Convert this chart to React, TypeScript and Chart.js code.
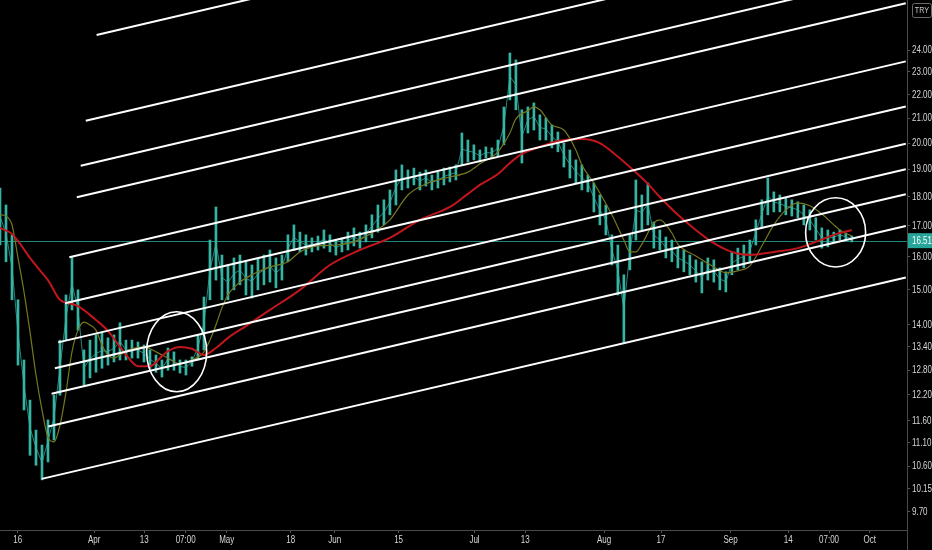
import React, { useEffect, useRef } from "react";
import { Chart, registerables } from "chart.js";
Chart.register(...registerables);

// ---- data (prices in TRY, x = bar index) ----
const candleHigh = [
  18.31, 17.71, 16.7, 14.7, 13.06, 12.07, 11.38, 11.05, 11.61, 12.19,
  13.58, 14.84, 15.99, 14.99, 13.32, 13.58, 13.72, 13.77, 13.64, 13.72,
  14.05, 13.58, 13.58, 13.53, 13.45, 13.32, 13.19, 13.06, 13.37, 13.27,
  13.06, 13.06, 13.14, 13.72, 14.78, 16.53, 17.64, 16.05, 15.74, 15.96,
  16.05, 15.84, 15.74, 15.96, 16.05, 16.21, 15.96, 16.05, 16.7, 17.03,
  16.79, 16.7, 16.6, 16.66, 16.86, 16.7, 16.53, 16.6, 16.79, 16.93,
  16.79, 17.03, 17.37, 17.71, 17.89, 18.24, 18.97, 19.16, 18.97, 19.04,
  18.89, 18.97, 18.78, 18.89, 19.04, 19.08, 19.16, 20.4, 20.12, 19.93,
  19.73, 19.85, 19.81, 20.12, 21.47, 23.87, 23.55, 21.35, 21.47, 21.64,
  21.14, 21.01, 20.72, 20.44, 20.0, 19.73, 19.35, 19.16, 18.78, 18.49,
  18.06, 17.71, 16.7, 16.37, 15.44, 16.7, 18.6, 18.06, 18.49, 17.13,
  16.86, 16.63, 16.53, 16.27, 16.21, 16.05, 15.9, 15.84, 15.96, 15.9,
  15.65, 15.53, 16.15, 16.27, 16.37, 16.53, 17.2, 17.89, 18.67, 18.17,
  18.06, 17.96, 17.89, 17.82, 17.71, 17.54, 17.27, 16.93, 16.86, 16.79,
  16.86, 16.76, 16.66,
];
const candleLow = [
  16.37, 15.84, 14.7, 12.93, 11.84, 10.83, 10.62, 10.32, 10.69, 11.16,
  12.19, 13.58, 14.41, 13.85, 12.43, 12.61, 12.75, 12.85, 12.93, 13.01,
  13.06, 13.06, 13.11, 13.11, 13.01, 12.85, 12.75, 12.63, 12.8, 12.8,
  12.73, 12.68, 12.9, 13.06, 13.32, 14.7, 15.28, 14.7, 14.7, 14.99,
  15.14, 14.84, 14.75, 14.99, 15.14, 15.22, 15.05, 15.28, 15.84, 16.21,
  16.15, 16.05, 16.15, 16.21, 16.27, 16.15, 16.05, 16.15, 16.21, 16.34,
  16.27, 16.47, 16.6, 16.79, 17.03, 17.37, 17.71, 18.24, 18.31, 18.42,
  18.24, 18.38, 18.24, 18.31, 18.42, 18.53, 18.6, 19.16, 19.27, 19.35,
  19.27, 19.42, 19.42, 19.5, 19.93, 21.77, 21.35, 19.23, 20.4, 20.52,
  20.12, 20.12, 19.81, 19.66, 19.08, 18.67, 18.49, 18.24, 18.17, 17.47,
  17.03, 16.7, 15.74, 14.84, 13.5, 15.59, 16.53, 16.86, 17.03, 16.27,
  16.21, 15.96, 15.84, 15.65, 15.53, 15.44, 15.22, 14.9, 15.28, 15.22,
  14.99, 14.93, 15.44, 15.59, 15.65, 15.84, 16.37, 16.93, 17.37, 17.47,
  17.47, 17.37, 17.33, 17.27, 17.03, 16.86, 16.53, 16.27, 16.31, 16.47,
  16.53, 16.53, 16.47,
];

const redIdx = [0, 2, 3, 5, 7, 8, 10, 12, 13, 16, 18, 20, 22, 23, 25, 27, 28, 30, 32, 34, 36, 38, 41, 45, 50, 55, 60, 65, 70, 75, 78, 80, 83, 85, 87, 90, 93, 97, 100, 102, 105, 108, 110, 113, 116, 119, 122, 125, 129, 133, 136, 139, 142];
const redVal = [16.93, 16.73, 16.5, 15.96, 15.5, 15.28, 14.7, 14.58, 14.52, 14.13, 13.83, 13.4, 13.01, 12.9, 12.9, 13.16, 13.29, 13.4, 13.35, 13.19, 13.37, 13.64, 13.96, 14.41, 14.99, 15.74, 16.21, 16.6, 17.2, 17.64, 18.1, 18.42, 18.82, 19.23, 19.58, 19.85, 20.08, 20.16, 20.0, 19.66, 19.08, 18.46, 17.99, 17.37, 16.86, 16.43, 16.15, 16.05, 16.15, 16.27, 16.47, 16.7, 16.86];

const oliveIdx = [0, 1, 2, 3, 4, 5, 6, 7, 8, 9, 10, 11, 12, 13, 14, 15, 16, 17, 18, 19, 20, 22, 24, 26, 28, 30, 32, 34, 35, 36, 37, 38, 40, 42, 45, 48, 50, 53, 56, 59, 62, 65, 68, 71, 75, 78, 80, 83, 85, 86, 88, 89, 90, 92, 94, 96, 97, 99, 100, 102, 104, 105, 106, 107, 109, 110, 112, 113, 116, 119, 121, 123, 125, 127, 129, 131, 133, 135, 137, 139, 140, 142];
const oliveVal = [17.37, 17.33, 17.03, 15.96, 14.93, 13.8, 12.68, 11.84, 11.22, 11.12, 11.49, 12.26, 13.27, 13.85, 14.07, 13.99, 13.85, 13.45, 13.19, 13.11, 13.19, 13.35, 13.4, 13.27, 13.11, 12.96, 13.06, 13.27, 13.58, 13.99, 14.47, 14.84, 15.22, 15.44, 15.68, 15.84, 16.15, 16.34, 16.37, 16.47, 16.76, 17.2, 18.06, 18.46, 18.71, 18.89, 19.2, 19.66, 20.4, 20.97, 21.31, 21.47, 21.35, 20.72, 20.52, 19.73, 19.16, 18.49, 18.13, 17.37, 16.53, 16.15, 16.15, 16.4, 17.1, 17.2, 16.76, 16.4, 16.02, 15.68, 15.5, 15.56, 15.71, 16.34, 17.03, 17.54, 17.78, 17.68, 17.4, 17.03, 16.86, 16.66];

// parallel channel lines: start (index, price) -> end (index, price)
const channelStartIdx = [16.1, 14.3, 13.45, 12.8, 11.55, 10.85, 9.7, 9.15, 8.6, 8.05, 6.95];
const channelStartVal = [24.73, 20.9, 19.13, 17.98, 15.98, 14.6, 13.52, 12.85, 12.22, 11.46, 10.34];
const channelEndIdx = 151;
const channelEndVal = [35.86, 30.46, 27.95, 26.32, 23.48, 21.49, 19.97, 19.0, 18.09, 16.99, 15.36];

// highlighted zones (index range, price range)
const zoneCenterIdx = [29.45, 139.3];
const zoneHalfIdx = [5, 5];
const zoneTop = [14.36, 17.96];
const zoneBottom = [12.27, 15.68];

const yTicks = [9.7, 10.15, 10.6, 11.1, 11.6, 12.2, 12.8, 13.4, 14, 15, 16, 17, 18, 19, 20, 21, 22, 23, 24];
const xTickPos = [2.95, 15.7, 24.05, 30.95, 37.8, 48.45, 55.8, 66.45, 79.1, 87.55, 100.7, 110.2, 121.8, 131.4, 138.2, 145];
const xTickLabels = ["16", "Apr", "13", "07:00", "May", "18", "Jun", "15", "Jul", "13", "Aug", "17", "Sep", "14", "07:00", "Oct"];
const lastPrice = 16.51;
const currency = "TRY";

const Y_MIN = 9.352;
const Y_MAX = 26.49;
const X_MAX = 151.2;

const FONT = "'Liberation Sans', 'DejaVu Sans', sans-serif";
const TEAL = "#35b3a3";
const LABEL = "#d6d6d6";

function narrowText(ctx: CanvasRenderingContext2D, text: string, x: number, y: number, align: "left" | "center") {
  const sx = 0.8;
  ctx.save();
  ctx.translate(x, y);
  ctx.scale(sx, 1);
  ctx.textAlign = align;
  ctx.fillText(text, 0, 0);
  ctx.restore();
}

const overlay = {
  id: "overlay",
  beforeDatasetsDraw(chart: any) {
    const { ctx, chartArea, scales } = chart;
    const py = Math.round(scales.y.getPixelForValue(lastPrice)) + 0.5;
    ctx.save();
    ctx.strokeStyle = "rgba(38,166,154,0.8)";
    ctx.lineWidth = 1;
    ctx.beginPath();
    ctx.moveTo(chartArea.left, py);
    ctx.lineTo(chartArea.right, py);
    ctx.stroke();
    ctx.restore();
  },
  afterDatasetsDraw(chart: any) {
    const { ctx, chartArea, scales } = chart;
    const { x, y } = scales;
    ctx.save();
    ctx.beginPath();
    ctx.rect(chartArea.left, chartArea.top, chartArea.right - chartArea.left, chartArea.bottom - chartArea.top);
    ctx.clip();
    ctx.strokeStyle = "#ffffff";
    ctx.lineWidth = 1.6;
    zoneCenterIdx.forEach((c, i) => {
      const cx = x.getPixelForValue(c);
      const rx = Math.abs(x.getPixelForValue(c + zoneHalfIdx[i]) - cx);
      const t = y.getPixelForValue(zoneTop[i]);
      const b = y.getPixelForValue(zoneBottom[i]);
      ctx.beginPath();
      ctx.ellipse(cx, (t + b) / 2, rx, Math.abs(b - t) / 2, 0, 0, Math.PI * 2);
      ctx.stroke();
    });
    ctx.restore();
  },
  afterDraw(chart: any) {
    const { ctx, chartArea, scales, width, height } = chart;
    const { x, y } = scales;
    ctx.save();
    ctx.strokeStyle = "#4a4a4a";
    ctx.lineWidth = 1;
    ctx.beginPath();
    ctx.moveTo(chartArea.right + 0.5, chartArea.bottom);
    ctx.lineTo(chartArea.right + 0.5, height);
    ctx.stroke();
    // tick labels (condensed, like the original terminal font)
    ctx.fillStyle = LABEL;
    ctx.font = `10px ${FONT}`;
    ctx.textBaseline = "middle";
    yTicks.forEach((v) => {
      narrowText(ctx, v.toFixed(2), chartArea.right + 5, y.getPixelForValue(v) + 0.5, "left");
    });
    xTickPos.forEach((p, i) => {
      narrowText(ctx, xTickLabels[i], x.getPixelForValue(p), chartArea.bottom + 10.5, "center");
    });
    // last price label
    const py = y.getPixelForValue(lastPrice);
    ctx.fillStyle = "#26a69a";
    ctx.fillRect(chartArea.right + 1, py - 7.5, width - chartArea.right - 1, 15);
    ctx.fillStyle = "#ffffff";
    narrowText(ctx, lastPrice.toFixed(2), chartArea.right + 5, py + 0.5, "left");
    // currency box
    const bx = chartArea.right + 5;
    ctx.strokeStyle = "#6a6a6a";
    ctx.beginPath();
    if ((ctx as any).roundRect) (ctx as any).roundRect(bx + 0.5, 3.5, 19, 14, 2);
    else ctx.rect(bx + 0.5, 3.5, 19, 14);
    ctx.stroke();
    ctx.fillStyle = "#c8c8c8";
    ctx.font = `9px ${FONT}`;
    narrowText(ctx, currency, bx + 10, 11, "center");
    ctx.restore();
  },
};

export default function App() {
  const ref = useRef<HTMLCanvasElement>(null);
  useEffect(() => {
    document.body.style.margin = "0";
    document.body.style.background = "#000";
    const candles = candleLow.map((lo, i) => ({ x: i, y: [lo, candleHigh[i]] }));
    const mids = candleLow.map((lo, i) => ({ x: i, y: Math.sqrt(lo * candleHigh[i]) }));
    const red = redIdx.map((v, i) => ({ x: v, y: redVal[i] }));
    const olive = oliveIdx.map((v, i) => ({ x: v, y: oliveVal[i] }));
    const channels = channelStartIdx.map((s, i) => ({
      type: "line",
      data: [
        { x: s, y: channelStartVal[i] },
        { x: channelEndIdx, y: channelEndVal[i] },
      ],
      borderColor: "#ffffff",
      borderWidth: 2,
      pointRadius: 0,
      order: 1,
    }));
    const chart = new Chart(ref.current as HTMLCanvasElement, {
      type: "bar",
      data: {
        datasets: [
          {
            type: "bar",
            data: candles as any,
            backgroundColor: TEAL,
            borderWidth: 0,
            barThickness: 2,
            order: 6,
          } as any,
          {
            type: "line",
            data: mids,
            borderColor: "rgba(53,179,163,0.75)",
            borderWidth: 1,
            pointRadius: 0,
            order: 5,
          } as any,
          {
            type: "line",
            data: olive,
            borderColor: "#76781f",
            borderWidth: 1.2,
            pointRadius: 0,
            cubicInterpolationMode: "monotone",
            order: 4,
          } as any,
          {
            type: "line",
            data: red,
            borderColor: "#c0161c",
            borderWidth: 2,
            pointRadius: 0,
            cubicInterpolationMode: "monotone",
            order: 3,
          } as any,
          ...(channels as any),
        ],
      },
      options: {
        responsive: false,
        devicePixelRatio: 1,
        animation: false,
        layout: { padding: 0 },
        plugins: { legend: { display: false }, tooltip: { enabled: false } },
        scales: {
          x: {
            type: "linear",
            min: 0,
            max: X_MAX,
            offset: false,
            grid: { display: true, drawOnChartArea: false, drawTicks: true, tickLength: 3, color: "#555", offset: false },
            border: { display: true, color: "#4a4a4a" },
            ticks: {
              autoSkip: false,
              maxRotation: 0,
              padding: 1,
              color: "rgba(0,0,0,0)",
              font: { family: FONT, size: 10 },
              callback: (_v: any, i: number) => xTickLabels[i],
            },
            afterBuildTicks: (s: any) => {
              s.ticks = xTickPos.map((v) => ({ value: v }));
            },
            afterFit: (s: any) => {
              s.height = 20;
              s.paddingLeft = 0;
              s.paddingRight = 0;
            },
          },
          y: {
            type: "logarithmic",
            position: "right",
            min: Y_MIN,
            max: Y_MAX,
            grid: { display: true, drawOnChartArea: false, drawTicks: true, tickLength: 3, color: "#555" },
            border: { display: true, color: "#4a4a4a" },
            ticks: {
              autoSkip: false,
              padding: 1,
              color: "rgba(0,0,0,0)",
              font: { family: FONT, size: 10 },
              callback: (v: any) => Number(v).toFixed(2),
            },
            afterBuildTicks: (s: any) => {
              s.ticks = yTicks.map((v) => ({ value: v }));
            },
            afterFit: (s: any) => {
              s.width = 25;
              s.paddingTop = 0;
              s.paddingBottom = 0;
            },
          },
        },
      } as any,
      plugins: [overlay as any],
    });
    return () => chart.destroy();
  }, []);
  return (
    <div style={{ position: "fixed", left: 0, top: 0, width: 932, height: 550, background: "#000" }}>
      <canvas ref={ref} width={932} height={550} style={{ display: "block", width: 932, height: 550 }} />
    </div>
  );
}
